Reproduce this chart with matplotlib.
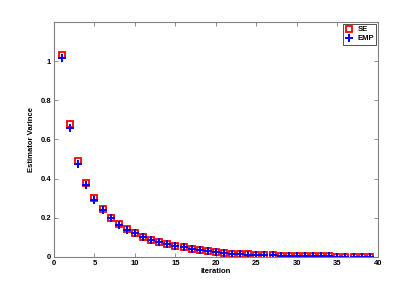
import matplotlib
matplotlib.use("Agg")
import matplotlib.pyplot as plt
from matplotlib.ticker import FuncFormatter

iterations = list(range(1, 40))
se_values = [1.03, 0.68, 0.49, 0.38, 0.30, 0.245, 0.20, 0.17, 0.145, 0.122,
             0.104, 0.088, 0.077, 0.068, 0.058, 0.050, 0.042, 0.035, 0.029, 0.024,
             0.020, 0.017, 0.015, 0.013, 0.011, 0.009, 0.008, 0.007, 0.006, 0.005,
             0.004, 0.004, 0.003, 0.003, 0.002, 0.002, 0.002, 0.002, 0.001]
emp_values = [1.015, 0.66, 0.475, 0.365, 0.29, 0.238, 0.198, 0.165, 0.14, 0.12,
              0.102, 0.087, 0.076, 0.067, 0.057, 0.049, 0.041, 0.034, 0.028, 0.023,
              0.019, 0.016, 0.014, 0.012, 0.010, 0.009, 0.008, 0.007, 0.006, 0.005,
              0.004, 0.004, 0.003, 0.003, 0.002, 0.002, 0.002, 0.002, 0.001]
xticks = [0, 5, 10, 15, 20, 25, 30, 35, 40]
yticks = [0, 0.2, 0.4, 0.6, 0.8, 1.0]

plt.rcParams['font.family'] = ['Liberation Sans', 'DejaVu Sans']

fig = plt.figure(figsize=(4.18, 2.90), dpi=100)
ax = fig.add_axes([0.129, 0.114, 0.775, 0.810])

ax.plot(iterations, se_values, linestyle='none', marker='s', markersize=4.5,
        markerfacecolor='none', markeredgecolor='red', markeredgewidth=1.3, label='SE')
ax.plot(iterations, emp_values, linestyle='none', marker='+', markersize=6,
        color='blue', markeredgewidth=1.4, label='EMP')

ax.set_xlim(0, 40)
ax.set_ylim(0, 1.2)
ax.set_xticks(xticks)
ax.set_yticks(yticks)
ax.yaxis.set_major_formatter(FuncFormatter(lambda v, p: ('%g' % v)))

for s in ax.spines.values():
    s.set_color('#808080')
    s.set_linewidth(0.8)
ax.tick_params(direction='in', length=3, width=0.6, color='#808080',
               labelsize=5.5, top=True, right=True, pad=2)
for lab in ax.get_xticklabels() + ax.get_yticklabels():
    lab.set_fontweight('bold')

ax.set_xlabel('Iteration', fontsize=5.5, fontweight='bold', labelpad=1)
ax.set_ylabel('Estimator Varince', fontsize=5.5, fontweight='bold', labelpad=4)

leg = ax.legend(loc='upper right', frameon=True, fancybox=False,
                edgecolor='black', borderpad=0.3, handlelength=1.0,
                handletextpad=0.6, borderaxespad=0.2, labelspacing=0.25,
                prop={'weight': 'bold', 'size': 5.5})
leg.get_frame().set_linewidth(0.6)

fig.savefig('out.png', dpi=100)
